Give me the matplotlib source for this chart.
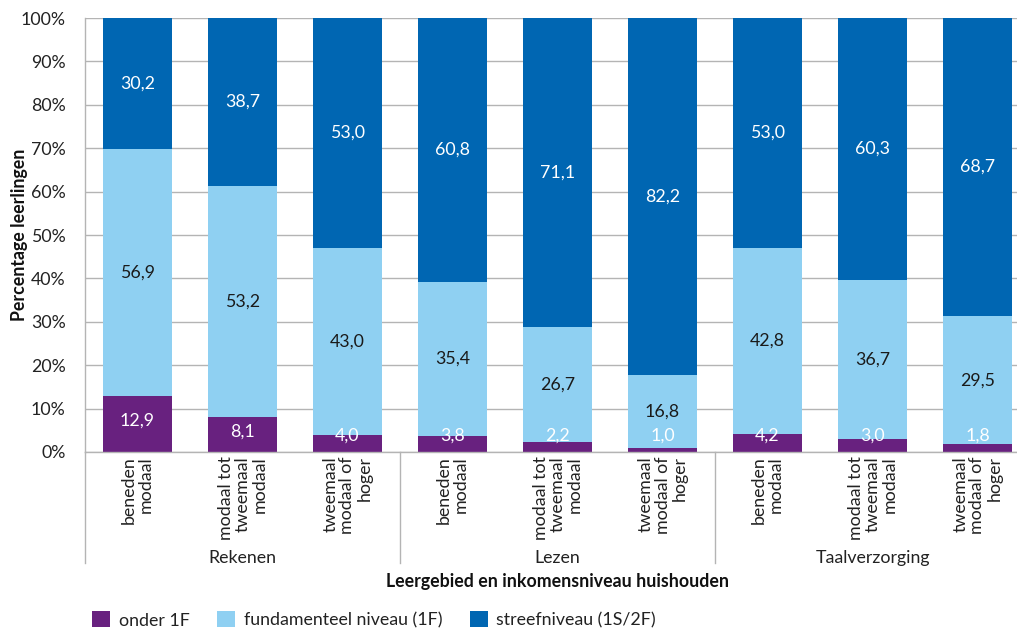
import matplotlib
matplotlib.use('Agg')
import matplotlib.pyplot as plt
from matplotlib.patches import Patch
import numpy as np

plt.rcParams['font.family'] = ['Lato', 'DejaVu Sans']
FS = 12.8

# Data: percentage per level, per subject and income group
groups = ['Rekenen', 'Lezen', 'Taalverzorging']
incomes = ['beneden\nmodaal', 'modaal tot\ntweemaal\nmodaal', 'tweemaal\nmodaal of\nhoger']
onder_1f = [12.9, 8.1, 4.0, 3.8, 2.2, 1.0, 4.2, 3.0, 1.8]
fundamenteel = [56.9, 53.2, 43.0, 35.4, 26.7, 16.8, 42.8, 36.7, 29.5]
streef = [30.2, 38.7, 53.0, 60.8, 71.1, 82.2, 53.0, 60.3, 68.7]
series_names = ['onder 1F', 'fundamenteel niveau (1F)', 'streefniveau (1S/2F)']
colors = ['#68217f', '#8fd0f2', '#0066b2']
text_colors = ['white', '#1a1a1a', 'white']

W, H = 1017, 628
fig = plt.figure(figsize=(W / 100, H / 100), dpi=100)
ax = fig.add_axes([85 / W, (H - 452) / H, 945 / W, 434 / H])

x = np.arange(len(onder_1f))
bottom = np.zeros(len(x))
for vals, col, tcol in zip([onder_1f, fundamenteel, streef], colors, text_colors):
    vals = np.array(vals)
    ax.bar(x, vals, bottom=bottom, width=0.65, color=col, zorder=2)
    for xi, b, v in zip(x, bottom, vals):
        y = b + v / 2
        if col == colors[0]:
            y = max(v / 2 + 0.7, 3.7)
        ax.text(xi, y, f'{v:.1f}'.replace('.', ','), ha='center', va='center',
                color=tcol, fontsize=FS, zorder=3)
    bottom += vals

ax.set_xlim(-0.5, len(x) - 0.5)
ax.set_ylim(0, 100)
ax.set_yticks(np.arange(0, 101, 10))
ax.set_yticklabels([f'{v}%' for v in range(0, 101, 10)], fontsize=FS, color='#222222')
ax.yaxis.grid(True, color='#b4b4b4', linewidth=1.0, zorder=0)
ax.tick_params(axis='y', length=0, pad=14)
ax.tick_params(axis='x', length=0, pad=3)

ax.set_xticks(x)
labels = ax.set_xticklabels(incomes * len(groups), rotation=90, fontsize=FS,
                            color='#222222', linespacing=1.07)
for lab in labels:
    lab.set_multialignment('right')
    lab.set_verticalalignment('top')

for s in ['top', 'right']:
    ax.spines[s].set_visible(False)
for s in ['left', 'bottom']:
    ax.spines[s].set_color('#b4b4b4')
    ax.spines[s].set_linewidth(1.0)

# group separators and group labels below the axis
trans = ax.get_xaxis_transform()
for sep in [-0.5, 2.5, 5.5, 8.5]:
    ax.plot([sep, sep], [0, -111 / 434], color='#b4b4b4', linewidth=1.0,
            transform=trans, clip_on=False)
for i, g in enumerate(groups):
    ax.text(i * 3 + 1, -106 / 434, g, ha='center', va='center', fontsize=FS,
            color='#222222', transform=trans)

fig.text(557 / W, 1 - 581 / H, 'Leergebied en inkomensniveau huishouden',
         ha='center', va='center', fontsize=FS, fontweight='bold', color='#111111')
ax.set_ylabel('Percentage leerlingen', fontsize=FS, fontweight='bold', color='#111111')
ax.yaxis.set_label_coords(-57 / 945, 0.5)

handles = [Patch(facecolor=c, edgecolor='none') for c in colors]
fig.legend(handles, series_names, loc='center left', bbox_to_anchor=(76 / W, 1 - 620 / H),
           ncol=3, frameon=False, fontsize=FS, handlelength=1.0, handleheight=1.0,
           handletextpad=0.5, columnspacing=1.55, labelcolor='#222222')

fig.savefig('out.png', dpi=100)
